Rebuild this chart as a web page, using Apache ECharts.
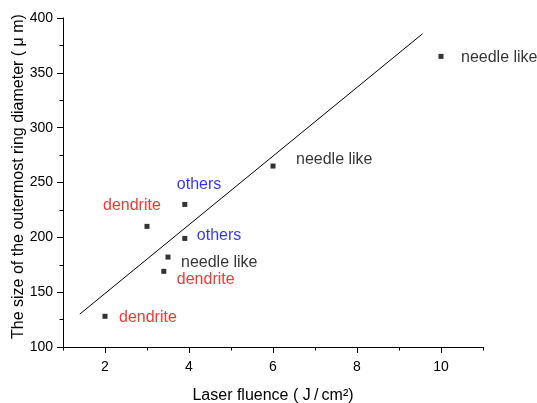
<!DOCTYPE html>
<html>
<head>
<meta charset="utf-8">
<script src="https://cdn.jsdelivr.net/npm/echarts@6/dist/echarts.min.js"></script>
<style>
html,body{margin:0;padding:0;background:#fff;}
#chart{width:537px;height:403px;}
</style>
</head>
<body>
<div id="chart"></div>
<script>
// ---- data ----
const fluence = [10, 6, 3.9, 3, 3.9, 3.5, 3.4, 2];
const diameter = [365, 265, 230, 210, 199, 182, 169, 128];
const morphology = ['needle like', 'needle like', 'others', 'dendrite', 'others', 'needle like', 'dendrite', 'dendrite'];
const fitLineX = [1.4, 9.56];
const fitLineY = [130, 385.6];
const xMajorTicks = [2, 4, 6, 8, 10];
const xMinorTicks = [1, 3, 5, 7, 9, 11];

// ---- styling ----
const morphColor = { 'needle like': '#000000', 'others': '#0000ff', 'dendrite': '#ff0000' };
const labelOffsets = [[20, 1], [23, -6], [-8, -20], [-44, -21], [12, -3], [13, 6], [13, 8], [14, 1]];
const FONT = '"Liberation Sans", Arial, sans-serif';

const scatterData = fluence.map((x, i) => ({
  value: [x, diameter[i]],
  label: {
    show: true,
    formatter: morphology[i],
    color: morphColor[morphology[i]],
    offset: labelOffsets[i]
  }
}));

const chart = echarts.init(document.getElementById('chart'), null, { renderer: 'canvas' });
chart.setOption({
  animation: false,
  backgroundColor: '#ffffff',
  textStyle: { fontFamily: FONT },
  grid: { left: 63, right: 54, top: 18, bottom: 56, containLabel: false, outerBoundsMode: 'none' },
  xAxis: [{
    type: 'value', min: 1, max: 11,
    name: 'Laser fluence ( J\u2009/\u2009cm²)',
    nameLocation: 'middle', nameGap: 41,
    nameMoveOverlap: false,
    nameTextStyle: { fontSize: 16, color: '#000', fontFamily: FONT },
    axisLine: { show: true, lineStyle: { color: '#000', width: 1 } },
    axisTick: { show: true, customValues: xMajorTicks, length: 6, lineStyle: { color: '#000' } },
    axisLabel: { customValues: xMajorTicks, fontSize: 14, color: '#000', margin: 13, fontFamily: FONT },
    splitLine: { show: false }
  }, {
    type: 'value', min: 1, max: 11, position: 'bottom',
    axisLine: { show: false },
    axisTick: { show: true, customValues: xMinorTicks, length: 3.5, lineStyle: { color: '#000' } },
    axisLabel: { show: false },
    splitLine: { show: false }
  }],
  yAxis: {
    type: 'value', min: 100, max: 400, interval: 50,
    name: 'The size of the outermost ring diameter ( μ m)',
    nameLocation: 'middle', nameGap: 36, nameRotate: 90,
    nameMoveOverlap: false,
    nameTextStyle: { fontSize: 16, color: '#000', fontFamily: FONT, padding: [0, 0, 0, 12] },
    axisLine: { show: true, lineStyle: { color: '#000', width: 1 } },
    axisTick: { show: true, length: 6, lineStyle: { color: '#000' } },
    minorTick: { show: true, splitNumber: 2, length: 3.5, lineStyle: { color: '#000' } },
    axisLabel: { fontSize: 14, color: '#000', margin: 10, fontFamily: FONT },
    splitLine: { show: false }
  },
  series: [{
    type: 'line',
    data: fitLineX.map((x, i) => [x, fitLineY[i]]),
    showSymbol: false, symbol: 'none',
    lineStyle: { color: '#000', width: 1 },
    silent: true
  }, {
    type: 'scatter',
    symbol: 'rect', symbolSize: 5,
    itemStyle: { color: '#000' },
    label: { position: 'inside', align: 'left', verticalAlign: 'middle', fontSize: 16, fontFamily: FONT, textBorderWidth: 0 },
    data: scatterData
  }]
});
</script>
</body>
</html>
